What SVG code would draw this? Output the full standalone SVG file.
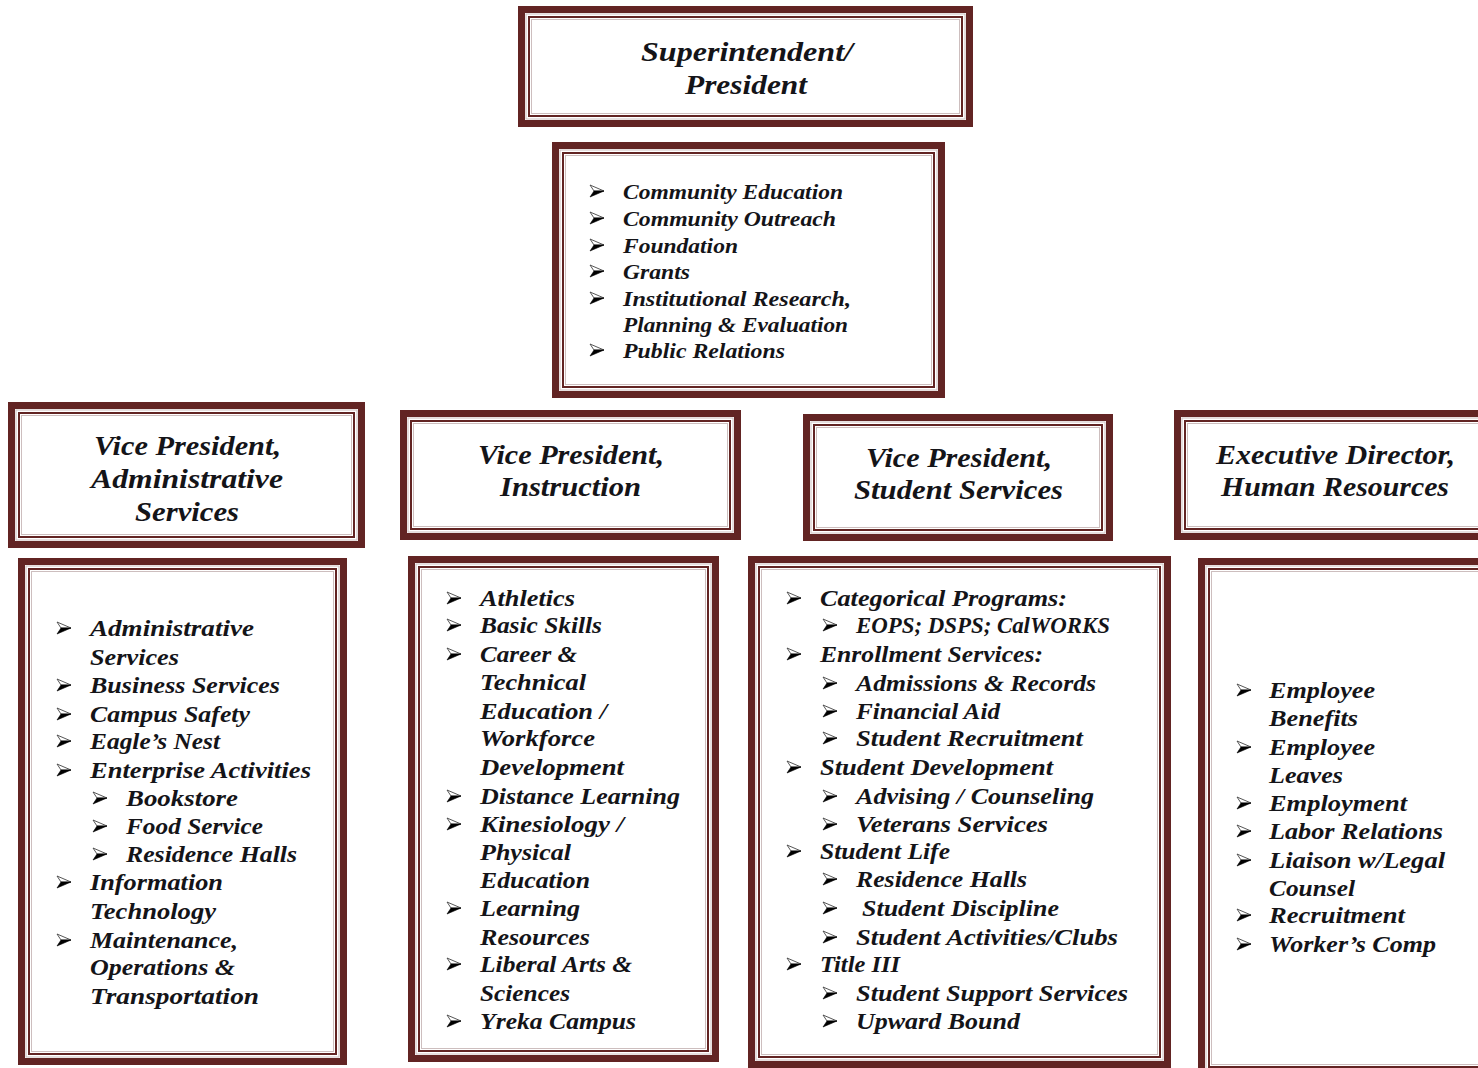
<svg xmlns="http://www.w3.org/2000/svg" xmlns:xlink="http://www.w3.org/1999/xlink" width="1478" height="1068" viewBox="0 0 1478 1068">
<style>
.o{fill:#fff;stroke:#622423;stroke-width:7}
.g{fill:none;stroke:#cdbebe;stroke-width:1}
.i{fill:none;stroke:#622423;stroke-width:2}
.t{font-family:"Liberation Serif","Times New Roman",serif;font-weight:bold;font-style:italic;fill:#141418}
.h{font-size:28px}
.l{font-size:24px}
.s{font-size:20.5px}
</style>
<defs>
<g id="b">
<path d="M0,-6 L14,0 L4,0 Z" fill="#fff" stroke="#444" stroke-width="0.9" stroke-linejoin="round"/>
<path d="M4,0 L14,0 L0,6 Z" fill="#000" stroke="#000" stroke-width="0.6" stroke-linejoin="round"/>
</g>
</defs>
<rect width="1478" height="1068" fill="#fff"/>

<g id="superintendent">
<rect class="o" x="521.5" y="9.5" width="448" height="114"/>
<rect class="g" x="526" y="14" width="439" height="105"/>
<rect class="i" x="529" y="17" width="433" height="99"/>
<rect class="g" x="531.5" y="19.5" width="428" height="94"/>
<text class="t h" x="641" y="61" textLength="212" lengthAdjust="spacingAndGlyphs">Superintendent/</text>
<text class="t h" x="685" y="94" textLength="122" lengthAdjust="spacingAndGlyphs">President</text>
</g>

<g id="president-office">
<rect class="o" x="555.5" y="145.5" width="386" height="249"/>
<rect class="g" x="560" y="150" width="377" height="240"/>
<rect class="i" x="563" y="153" width="371" height="234"/>
<rect class="g" x="565.5" y="155.5" width="366" height="229"/>
<use xlink:href="#b" x="590" y="191"/>
<use xlink:href="#b" x="590" y="218"/>
<use xlink:href="#b" x="590" y="245"/>
<use xlink:href="#b" x="590" y="271"/>
<use xlink:href="#b" x="590" y="298"/>
<use xlink:href="#b" x="590" y="350"/>
<text class="t s" x="623" y="199" textLength="220" lengthAdjust="spacingAndGlyphs">Community Education</text>
<text class="t s" x="623" y="226" textLength="213" lengthAdjust="spacingAndGlyphs">Community Outreach</text>
<text class="t s" x="623" y="253" textLength="115" lengthAdjust="spacingAndGlyphs">Foundation</text>
<text class="t s" x="623" y="279" textLength="67" lengthAdjust="spacingAndGlyphs">Grants</text>
<text class="t s" x="623" y="306" textLength="228" lengthAdjust="spacingAndGlyphs">Institutional Research,</text>
<text class="t s" x="623" y="332" textLength="225" lengthAdjust="spacingAndGlyphs">Planning &amp; Evaluation</text>
<text class="t s" x="623" y="358" textLength="162" lengthAdjust="spacingAndGlyphs">Public Relations</text>
</g>

<g id="vp-admin">
<rect class="o" x="11.5" y="405.5" width="350" height="139"/>
<rect class="g" x="16" y="410" width="341" height="130"/>
<rect class="i" x="19" y="413" width="335" height="124"/>
<rect class="g" x="21.5" y="415.5" width="330" height="119"/>
<text class="t h" x="94" y="455" textLength="187" lengthAdjust="spacingAndGlyphs">Vice President,</text>
<text class="t h" x="91" y="488" textLength="192" lengthAdjust="spacingAndGlyphs">Administrative</text>
<text class="t h" x="135" y="521" textLength="104" lengthAdjust="spacingAndGlyphs">Services</text>
</g>

<g id="vp-instruction">
<rect class="o" x="403.5" y="413.5" width="334" height="123"/>
<rect class="g" x="408" y="418" width="325" height="114"/>
<rect class="i" x="411" y="421" width="319" height="108"/>
<rect class="g" x="413.5" y="423.5" width="314" height="103"/>
<text class="t h" x="478" y="464" textLength="186" lengthAdjust="spacingAndGlyphs">Vice President,</text>
<text class="t h" x="500" y="496" textLength="141" lengthAdjust="spacingAndGlyphs">Instruction</text>
</g>

<g id="vp-student">
<rect class="o" x="806.5" y="417.5" width="303" height="120"/>
<rect class="g" x="811" y="422" width="294" height="111"/>
<rect class="i" x="814" y="425" width="288" height="105"/>
<rect class="g" x="816.5" y="427.5" width="283" height="100"/>
<text class="t h" x="866" y="467" textLength="186" lengthAdjust="spacingAndGlyphs">Vice President,</text>
<text class="t h" x="854" y="499" textLength="209" lengthAdjust="spacingAndGlyphs">Student Services</text>
</g>

<g id="exec-hr">
<rect class="o" x="1177.5" y="413.5" width="320" height="123"/>
<rect class="g" x="1182" y="418" width="320" height="114"/>
<rect class="i" x="1185" y="421" width="320" height="108"/>
<rect class="g" x="1187.5" y="423.5" width="320" height="103"/>
<text class="t h" x="1216" y="464" textLength="239" lengthAdjust="spacingAndGlyphs">Executive Director,</text>
<text class="t h" x="1221" y="496" textLength="228" lengthAdjust="spacingAndGlyphs">Human Resources</text>
</g>

<g id="admin-list">
<rect class="o" x="21.5" y="561.5" width="322" height="500"/>
<rect class="g" x="26" y="566" width="313" height="491"/>
<rect class="i" x="29" y="569" width="307" height="485"/>
<rect class="g" x="31.5" y="571.5" width="302" height="480"/>
<use xlink:href="#b" x="57" y="628"/>
<use xlink:href="#b" x="57" y="685"/>
<use xlink:href="#b" x="57" y="714"/>
<use xlink:href="#b" x="57" y="741"/>
<use xlink:href="#b" x="57" y="770"/>
<use xlink:href="#b" x="93" y="798"/>
<use xlink:href="#b" x="93" y="826"/>
<use xlink:href="#b" x="93" y="854"/>
<use xlink:href="#b" x="57" y="882"/>
<use xlink:href="#b" x="57" y="940"/>
<text class="t l" x="90" y="636" textLength="164" lengthAdjust="spacingAndGlyphs">Administrative</text>
<text class="t l" x="90" y="665" textLength="89" lengthAdjust="spacingAndGlyphs">Services</text>
<text class="t l" x="90" y="693" textLength="190" lengthAdjust="spacingAndGlyphs">Business Services</text>
<text class="t l" x="90" y="722" textLength="160" lengthAdjust="spacingAndGlyphs">Campus Safety</text>
<text class="t l" x="90" y="749" textLength="130" lengthAdjust="spacingAndGlyphs">Eagle’s Nest</text>
<text class="t l" x="90" y="778" textLength="221" lengthAdjust="spacingAndGlyphs">Enterprise Activities</text>
<text class="t l" x="126" y="806" textLength="112" lengthAdjust="spacingAndGlyphs">Bookstore</text>
<text class="t l" x="126" y="834" textLength="137" lengthAdjust="spacingAndGlyphs">Food Service</text>
<text class="t l" x="126" y="862" textLength="171" lengthAdjust="spacingAndGlyphs">Residence Halls</text>
<text class="t l" x="90" y="890" textLength="133" lengthAdjust="spacingAndGlyphs">Information</text>
<text class="t l" x="90" y="919" textLength="126" lengthAdjust="spacingAndGlyphs">Technology</text>
<text class="t l" x="90" y="948" textLength="148" lengthAdjust="spacingAndGlyphs">Maintenance,</text>
<text class="t l" x="90" y="975" textLength="145" lengthAdjust="spacingAndGlyphs">Operations &amp;</text>
<text class="t l" x="90" y="1004" textLength="169" lengthAdjust="spacingAndGlyphs">Transportation</text>
</g>

<g id="instruction-list">
<rect class="o" x="411.5" y="559.5" width="304" height="499"/>
<rect class="g" x="416" y="564" width="295" height="490"/>
<rect class="i" x="419" y="567" width="289" height="484"/>
<rect class="g" x="421.5" y="569.5" width="284" height="479"/>
<use xlink:href="#b" x="447" y="598"/>
<use xlink:href="#b" x="447" y="625"/>
<use xlink:href="#b" x="447" y="654"/>
<use xlink:href="#b" x="447" y="796"/>
<use xlink:href="#b" x="447" y="824"/>
<use xlink:href="#b" x="447" y="908"/>
<use xlink:href="#b" x="447" y="964"/>
<use xlink:href="#b" x="447" y="1021"/>
<text class="t l" x="480" y="606" textLength="95" lengthAdjust="spacingAndGlyphs">Athletics</text>
<text class="t l" x="480" y="633" textLength="122" lengthAdjust="spacingAndGlyphs">Basic Skills</text>
<text class="t l" x="480" y="662" textLength="97" lengthAdjust="spacingAndGlyphs">Career &amp;</text>
<text class="t l" x="480" y="690" textLength="106" lengthAdjust="spacingAndGlyphs">Technical</text>
<text class="t l" x="480" y="719" textLength="127" lengthAdjust="spacingAndGlyphs">Education /</text>
<text class="t l" x="480" y="746" textLength="115" lengthAdjust="spacingAndGlyphs">Workforce</text>
<text class="t l" x="480" y="775" textLength="144" lengthAdjust="spacingAndGlyphs">Development</text>
<text class="t l" x="480" y="804" textLength="200" lengthAdjust="spacingAndGlyphs">Distance Learning</text>
<text class="t l" x="480" y="832" textLength="144" lengthAdjust="spacingAndGlyphs">Kinesiology /</text>
<text class="t l" x="480" y="860" textLength="91" lengthAdjust="spacingAndGlyphs">Physical</text>
<text class="t l" x="480" y="888" textLength="110" lengthAdjust="spacingAndGlyphs">Education</text>
<text class="t l" x="480" y="916" textLength="100" lengthAdjust="spacingAndGlyphs">Learning</text>
<text class="t l" x="480" y="945" textLength="110" lengthAdjust="spacingAndGlyphs">Resources</text>
<text class="t l" x="480" y="972" textLength="152" lengthAdjust="spacingAndGlyphs">Liberal Arts &amp;</text>
<text class="t l" x="480" y="1001" textLength="90" lengthAdjust="spacingAndGlyphs">Sciences</text>
<text class="t l" x="480" y="1029" textLength="156" lengthAdjust="spacingAndGlyphs">Yreka Campus</text>
</g>

<g id="student-list">
<rect class="o" x="751.5" y="559.5" width="416" height="505"/>
<rect class="g" x="756" y="564" width="407" height="496"/>
<rect class="i" x="759" y="567" width="401" height="490"/>
<rect class="g" x="761.5" y="569.5" width="396" height="485"/>
<use xlink:href="#b" x="787" y="598"/>
<use xlink:href="#b" x="823" y="625"/>
<use xlink:href="#b" x="787" y="654"/>
<use xlink:href="#b" x="823" y="683"/>
<use xlink:href="#b" x="823" y="711"/>
<use xlink:href="#b" x="823" y="738"/>
<use xlink:href="#b" x="787" y="767"/>
<use xlink:href="#b" x="823" y="796"/>
<use xlink:href="#b" x="823" y="824"/>
<use xlink:href="#b" x="787" y="851"/>
<use xlink:href="#b" x="823" y="879"/>
<use xlink:href="#b" x="823" y="908"/>
<use xlink:href="#b" x="823" y="937"/>
<use xlink:href="#b" x="787" y="964"/>
<use xlink:href="#b" x="823" y="993"/>
<use xlink:href="#b" x="823" y="1021"/>
<text class="t l" x="820" y="606" textLength="247" lengthAdjust="spacingAndGlyphs">Categorical Programs:</text>
<text class="t l" x="856" y="633" textLength="254" lengthAdjust="spacingAndGlyphs">EOPS; DSPS; CalWORKS</text>
<text class="t l" x="820" y="662" textLength="223" lengthAdjust="spacingAndGlyphs">Enrollment Services:</text>
<text class="t l" x="856" y="691" textLength="240" lengthAdjust="spacingAndGlyphs">Admissions &amp; Records</text>
<text class="t l" x="856" y="719" textLength="144" lengthAdjust="spacingAndGlyphs">Financial Aid</text>
<text class="t l" x="856" y="746" textLength="227" lengthAdjust="spacingAndGlyphs">Student Recruitment</text>
<text class="t l" x="820" y="775" textLength="233" lengthAdjust="spacingAndGlyphs">Student Development</text>
<text class="t l" x="856" y="804" textLength="238" lengthAdjust="spacingAndGlyphs">Advising / Counseling</text>
<text class="t l" x="856" y="832" textLength="192" lengthAdjust="spacingAndGlyphs">Veterans Services</text>
<text class="t l" x="820" y="859" textLength="130" lengthAdjust="spacingAndGlyphs">Student Life</text>
<text class="t l" x="856" y="887" textLength="171" lengthAdjust="spacingAndGlyphs">Residence Halls</text>
<text class="t l" x="862" y="916" textLength="197" lengthAdjust="spacingAndGlyphs">Student Discipline</text>
<text class="t l" x="856" y="945" textLength="262" lengthAdjust="spacingAndGlyphs">Student Activities/Clubs</text>
<text class="t l" x="820" y="972" textLength="80" lengthAdjust="spacingAndGlyphs">Title III</text>
<text class="t l" x="856" y="1001" textLength="272" lengthAdjust="spacingAndGlyphs">Student Support Services</text>
<text class="t l" x="856" y="1029" textLength="164" lengthAdjust="spacingAndGlyphs">Upward Bound</text>
</g>

<g id="hr-list">
<rect class="o" x="1201.5" y="561.5" width="300" height="513"/>
<rect class="g" x="1206" y="566" width="300" height="504"/>
<rect class="i" x="1209" y="569" width="300" height="498"/>
<rect class="g" x="1211.5" y="571.5" width="300" height="493"/>
<use xlink:href="#b" x="1237" y="690"/>
<use xlink:href="#b" x="1237" y="747"/>
<use xlink:href="#b" x="1237" y="803"/>
<use xlink:href="#b" x="1237" y="831"/>
<use xlink:href="#b" x="1237" y="860"/>
<use xlink:href="#b" x="1237" y="915"/>
<use xlink:href="#b" x="1237" y="944"/>
<text class="t l" x="1269" y="698" textLength="106" lengthAdjust="spacingAndGlyphs">Employee</text>
<text class="t l" x="1269" y="726" textLength="89" lengthAdjust="spacingAndGlyphs">Benefits</text>
<text class="t l" x="1269" y="755" textLength="106" lengthAdjust="spacingAndGlyphs">Employee</text>
<text class="t l" x="1269" y="783" textLength="74" lengthAdjust="spacingAndGlyphs">Leaves</text>
<text class="t l" x="1269" y="811" textLength="138" lengthAdjust="spacingAndGlyphs">Employment</text>
<text class="t l" x="1269" y="839" textLength="174" lengthAdjust="spacingAndGlyphs">Labor Relations</text>
<text class="t l" x="1269" y="868" textLength="176" lengthAdjust="spacingAndGlyphs">Liaison w/Legal</text>
<text class="t l" x="1269" y="896" textLength="86" lengthAdjust="spacingAndGlyphs">Counsel</text>
<text class="t l" x="1269" y="923" textLength="136" lengthAdjust="spacingAndGlyphs">Recruitment</text>
<text class="t l" x="1269" y="952" textLength="167" lengthAdjust="spacingAndGlyphs">Worker’s Comp</text>
</g>

<g id="connectors"></g>
</svg>
